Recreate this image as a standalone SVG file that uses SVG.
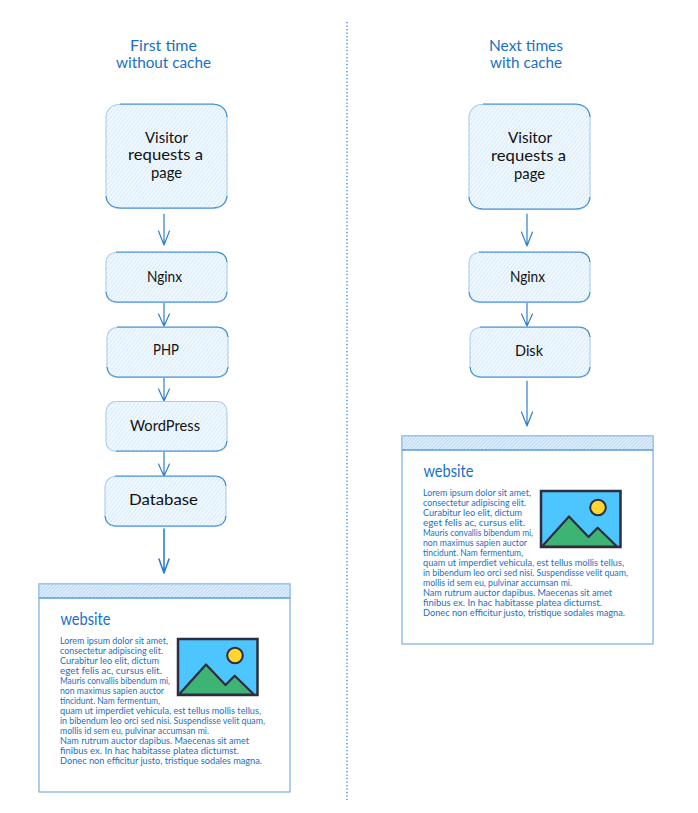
<svg xmlns="http://www.w3.org/2000/svg" width="698" height="813" viewBox="0 0 698 813">
<style>
text{font-family:"Lato","Noto Sans","DejaVu Sans",sans-serif}
.title{font-size:14.5px;fill:#1971c2;text-anchor:start}
.label{font-size:15px;fill:#111;font-weight:400}
.head{font-size:17px;fill:#1971c2;font-weight:400}
.body{font-size:9px;fill:#1971c2}
.box{fill:url(#hatch)}
.edge{fill:none;stroke:#3f8ad2;stroke-width:1.1}
.edge2{fill:none;stroke:#a8cdee;stroke-width:1.1}
.arrow{fill:none;stroke:#2f7fcf;stroke-width:1.2;stroke-linecap:round;stroke-linejoin:round}
.thick{stroke-width:1.6}
.page{fill:#fff;stroke:#6ea6de;stroke-width:1.1}
.bar{fill:url(#dense);stroke:#8fbce8;stroke-width:1}
.rule{stroke:#3f8ad2;stroke-width:1}
.frame{fill:#4dc6ff;stroke:#2d2d3f;stroke-width:2.5}
.sun{fill:#ffd52e;stroke:#2d2d3f;stroke-width:2}
.hill{fill:#3eb474;stroke:#2d2d3f;stroke-width:2.2;stroke-linejoin:round}
</style>
<defs>
<pattern id="hatch" width="3" height="3" patternUnits="userSpaceOnUse" patternTransform="rotate(-52)">
<rect width="3" height="3" fill="#f2f9fe"/>
<rect width="3" height="1" fill="#d6eafb"/>
</pattern>
<pattern id="dense" width="2.5" height="2.5" patternUnits="userSpaceOnUse" patternTransform="rotate(-45)">
<rect width="2.5" height="2.5" fill="#e6f2fc"/>
<rect width="2.5" height="1.2" fill="#b9d9f5"/>
</pattern>
</defs>

<g id="connectors">
<path class="arrow" d="M164 214V245M158.500 231L164 245L169.500 231"/>
<path class="arrow" d="M164 302V326M158.500 314L164 326L169.500 314"/>
<path class="arrow" d="M164 377V401M158.500 389L164 401L169.500 389"/>
<path class="arrow" d="M164 451V476M158.500 464L164 476L169.500 464"/>
<path class="arrow thick" d="M164 529V573M159 559L164 573L169 559"/>
<path class="arrow" d="M527 214V246M521.500 232L527 246L532.500 232"/>
<path class="arrow" d="M527 302V326M521.500 314L527 326L532.500 314"/>
<path class="arrow" d="M527 381V426M521.500 412L527 426L532.500 412"/>
<path d="M347 22V800" fill="none" stroke="#2f7fcf" stroke-width="1.3" stroke-dasharray="1.2 2.3"/>
</g>

<g id="title-left">
<text class="title" x="130" y="51" textLength="67" lengthAdjust="spacingAndGlyphs">First time</text>
<text class="title" x="116" y="68" textLength="95" lengthAdjust="spacingAndGlyphs">without cache</text>
</g>
<g id="title-right">
<text class="title" x="489" y="51" textLength="74" lengthAdjust="spacingAndGlyphs">Next times</text>
<text class="title" x="490" y="68" textLength="72" lengthAdjust="spacingAndGlyphs">with cache</text>
</g>

<g id="left-visitor">
<rect class="box" x="106" y="104" width="121" height="104" rx="13"/>
<rect class="edge2" x="106" y="104.500" width="121" height="104" rx="13"/>
<path class="edge" d="M120 104H213Q226 105 227 117M227 196Q226 207 213 208H120Q107 207 106 196"/>
<text class="label" x="145" y="143" textLength="43" lengthAdjust="spacingAndGlyphs">Visitor</text>
<text class="label" x="128" y="160" textLength="75" lengthAdjust="spacingAndGlyphs">requests a</text>
<text class="label" x="151" y="178" textLength="31" lengthAdjust="spacingAndGlyphs">page</text>
</g>
<g id="left-nginx">
<rect class="box" x="106" y="252" width="121" height="50" rx="10"/>
<rect class="edge2" x="106" y="252.500" width="121" height="50" rx="10"/>
<path class="edge" d="M116 252H217Q226 253 227 262M227 292Q226 301 217 302H116Q107 301 106 292"/>
<text class="label" x="147" y="282" textLength="35" lengthAdjust="spacingAndGlyphs">Nginx</text>
</g>
<g id="left-php">
<rect class="box" x="107" y="327" width="121" height="50" rx="10"/>
<rect class="edge2" x="107" y="327.500" width="121" height="50" rx="10"/>
<path class="edge" d="M117 327H218Q227 328 228 337M228 367Q227 376 218 377H117Q108 376 107 367"/>
<text class="label" x="153" y="355" textLength="26" lengthAdjust="spacingAndGlyphs">PHP</text>
</g>
<g id="left-wordpress">
<rect class="box" x="106" y="401" width="121" height="50" rx="10"/>
<rect class="edge2" x="106" y="401.500" width="121" height="50" rx="10"/>
<path class="edge" d="M116 451H217Q226 450 227 441"/>
<text class="label" x="130" y="431" textLength="70" lengthAdjust="spacingAndGlyphs">WordPress</text>
</g>
<g id="left-database">
<rect class="box" x="105" y="476" width="121" height="50" rx="10"/>
<rect class="edge2" x="105" y="476.500" width="121" height="50" rx="10"/>
<path class="edge" d="M115 476H216Q225 477 226 486M226 516Q225 525 216 526H115Q106 525 105 516"/>
<text class="label" x="129" y="505" textLength="69" lengthAdjust="spacingAndGlyphs">Database</text>
</g>

<g id="left-website">
<rect class="page" x="39" y="584" width="251" height="208"/>
<rect class="bar" x="39" y="584" width="251" height="14"/>
<path class="rule" d="M39 598H290"/>
<text class="head" x="60.500" y="625" textLength="50" lengthAdjust="spacingAndGlyphs">website</text>
<text class="body" x="60" y="644" textLength="108" lengthAdjust="spacingAndGlyphs">Lorem ipsum dolor sit amet,</text>
<text class="body" x="60" y="654" textLength="103" lengthAdjust="spacingAndGlyphs">consectetur adipiscing elit.</text>
<text class="body" x="60" y="664" textLength="99" lengthAdjust="spacingAndGlyphs">Curabitur leo elit, dictum</text>
<text class="body" x="60" y="674" textLength="102" lengthAdjust="spacingAndGlyphs">eget felis ac, cursus elit.</text>
<text class="body" x="60" y="684" textLength="110" lengthAdjust="spacingAndGlyphs">Mauris convallis bibendum mi,</text>
<text class="body" x="60" y="694" textLength="104" lengthAdjust="spacingAndGlyphs">non maximus sapien auctor</text>
<text class="body" x="60" y="704" textLength="100" lengthAdjust="spacingAndGlyphs">tincidunt. Nam fermentum,</text>
<text class="body" x="60" y="714" textLength="201" lengthAdjust="spacingAndGlyphs">quam ut imperdiet vehicula, est tellus mollis tellus,</text>
<text class="body" x="60" y="724" textLength="205" lengthAdjust="spacingAndGlyphs">in bibendum leo orci sed nisi. Suspendisse velit quam,</text>
<text class="body" x="60" y="734" textLength="149" lengthAdjust="spacingAndGlyphs">mollis id sem eu, pulvinar accumsan mi.</text>
<text class="body" x="60" y="744" textLength="189" lengthAdjust="spacingAndGlyphs">Nam rutrum auctor dapibus. Maecenas sit amet</text>
<text class="body" x="60" y="754" textLength="179" lengthAdjust="spacingAndGlyphs">finibus ex. In hac habitasse platea dictumst.</text>
<text class="body" x="60" y="764" textLength="202" lengthAdjust="spacingAndGlyphs">Donec non efficitur justo, tristique sodales magna.</text>
<rect class="frame" x="178" y="639" width="79.500" height="56"/>
<polygon class="hill" points="179,694.500 206,664.500 225.500,685 234.700,675.700 254,694.500"/>
<circle class="sun" cx="235" cy="655.500" r="7.800"/>
</g>

<g id="right-visitor">
<rect class="box" x="469" y="104" width="121" height="105" rx="13"/>
<rect class="edge2" x="469" y="104.500" width="121" height="105" rx="13"/>
<path class="edge" d="M483 104H576Q589 105 590 117M590 197Q589 208 576 209H483Q470 208 469 197"/>
<text class="label" x="508" y="143" textLength="44" lengthAdjust="spacingAndGlyphs">Visitor</text>
<text class="label" x="491" y="161" textLength="75" lengthAdjust="spacingAndGlyphs">requests a</text>
<text class="label" x="514" y="179" textLength="31" lengthAdjust="spacingAndGlyphs">page</text>
</g>
<g id="right-nginx">
<rect class="box" x="469" y="252" width="121" height="50" rx="10"/>
<rect class="edge2" x="469" y="252.500" width="121" height="50" rx="10"/>
<path class="edge" d="M479 252H580Q589 253 590 262M590 292Q589 301 580 302H479Q470 301 469 292"/>
<text class="label" x="510" y="282" textLength="35" lengthAdjust="spacingAndGlyphs">Nginx</text>
</g>
<g id="right-disk">
<rect class="box" x="470" y="327" width="120" height="50" rx="10"/>
<rect class="edge2" x="470" y="327.500" width="120" height="50" rx="10"/>
<path class="edge" d="M480 327H580Q589 328 590 337M590 367Q589 376 580 377H480Q471 376 470 367"/>
<text class="label" x="515" y="356" textLength="28" lengthAdjust="spacingAndGlyphs">Disk</text>
</g>

<g id="right-website">
<rect class="page" x="402" y="436" width="251" height="208"/>
<rect class="bar" x="402" y="436" width="251" height="14"/>
<path class="rule" d="M402 450H653"/>
<text class="head" x="423.500" y="477" textLength="50" lengthAdjust="spacingAndGlyphs">website</text>
<text class="body" x="423" y="496" textLength="108" lengthAdjust="spacingAndGlyphs">Lorem ipsum dolor sit amet,</text>
<text class="body" x="423" y="506" textLength="103" lengthAdjust="spacingAndGlyphs">consectetur adipiscing elit.</text>
<text class="body" x="423" y="516" textLength="99" lengthAdjust="spacingAndGlyphs">Curabitur leo elit, dictum</text>
<text class="body" x="423" y="526" textLength="102" lengthAdjust="spacingAndGlyphs">eget felis ac, cursus elit.</text>
<text class="body" x="423" y="536" textLength="110" lengthAdjust="spacingAndGlyphs">Mauris convallis bibendum mi,</text>
<text class="body" x="423" y="546" textLength="104" lengthAdjust="spacingAndGlyphs">non maximus sapien auctor</text>
<text class="body" x="423" y="556" textLength="100" lengthAdjust="spacingAndGlyphs">tincidunt. Nam fermentum,</text>
<text class="body" x="423" y="566" textLength="201" lengthAdjust="spacingAndGlyphs">quam ut imperdiet vehicula, est tellus mollis tellus,</text>
<text class="body" x="423" y="576" textLength="205" lengthAdjust="spacingAndGlyphs">in bibendum leo orci sed nisi. Suspendisse velit quam,</text>
<text class="body" x="423" y="586" textLength="149" lengthAdjust="spacingAndGlyphs">mollis id sem eu, pulvinar accumsan mi.</text>
<text class="body" x="423" y="596" textLength="189" lengthAdjust="spacingAndGlyphs">Nam rutrum auctor dapibus. Maecenas sit amet</text>
<text class="body" x="423" y="606" textLength="179" lengthAdjust="spacingAndGlyphs">finibus ex. In hac habitasse platea dictumst.</text>
<text class="body" x="423" y="616" textLength="202" lengthAdjust="spacingAndGlyphs">Donec non efficitur justo, tristique sodales magna.</text>
<rect class="frame" x="541" y="491" width="79.500" height="56"/>
<polygon class="hill" points="542,546.500 569,516.500 588.500,537 597.700,527.700 617,546.500"/>
<circle class="sun" cx="598" cy="507.500" r="7.800"/>
</g>
</svg>
